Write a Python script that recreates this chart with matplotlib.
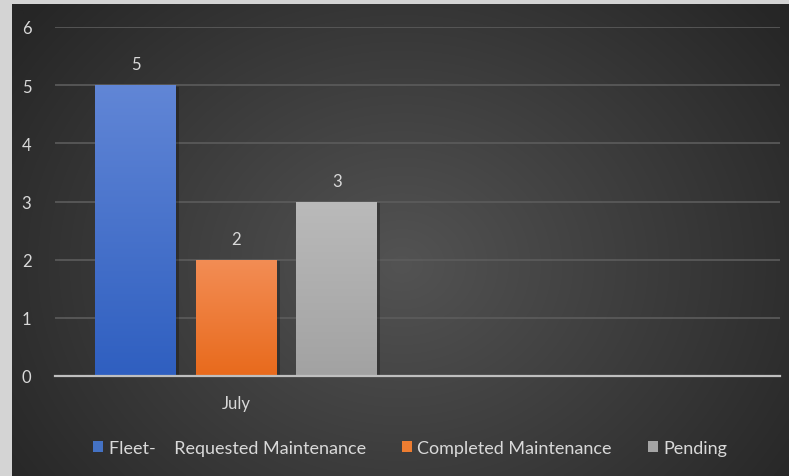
import numpy as np
import matplotlib
matplotlib.use("Agg")
import matplotlib.pyplot as plt
from matplotlib.patches import Rectangle
from matplotlib.colors import LinearSegmentedColormap

categories = ["July", ""]
series_names = ["Fleet-    Requested Maintenance", "Completed Maintenance", "Pending"]
series_values = [[5, None], [2, None], [3, None]]
yticks = [0, 1, 2, 3, 4, 5, 6]

top_colors = ["#6186d6", "#f38d55", "#bababa"]
bot_colors = ["#2f5fc0", "#e86a1c", "#a2a2a2"]
legend_colors = ["#4472c4", "#ed7d31", "#a5a5a5"]

plt.rcParams['font.family'] = ['Lato', 'DejaVu Sans']

W, H = 789, 477
fig = plt.figure(figsize=(W / 100, H / 100), dpi=100)
fig.patch.set_facecolor("#d4d4d4")

# panel background with radial gradient
px0, py0, px1, py1 = 12, 5, 789, 477
bg = fig.add_axes([px0 / W, 1 - py1 / H, (px1 - px0) / W, (py1 - py0) / H])
bg.set_axis_off()
ny, nx = 200, 300
yy, xx = np.mgrid[0:ny, 0:nx]
cx, cy = 0.50 * nx, 0.55 * ny
r = np.sqrt(((xx - cx) / (0.62 * nx)) ** 2 + ((yy - cy) / (0.85 * ny)) ** 2)
r = np.clip(r, 0, 1)
c0 = np.array([0x53, 0x53, 0x53]) / 255
c1 = np.array([0x26, 0x26, 0x26]) / 255
img = c0[None, None, :] * (1 - r[..., None]) + c1[None, None, :] * r[..., None]
bg.imshow(img, aspect="auto", extent=[0, 1, 0, 1], interpolation="bilinear")
bg.set_xlim(0, 1)
bg.set_ylim(0, 1)

ax_l, ax_r, ax_t, ax_b = 55, 780, 28, 377
ax = fig.add_axes([ax_l / W, 1 - ax_b / H, (ax_r - ax_l) / W, (ax_b - ax_t) / H])
ax.patch.set_alpha(0)
ax.set_xlim(-0.5, 1.5)
ax.set_ylim(0, 6)

bw = 0.223
step = 0.277
x = np.arange(len(categories))
for i, (name, vals) in enumerate(zip(series_names, series_values)):
    for j, v in enumerate(vals):
        if v is None:
            continue
        xc = x[j] + (i - 1) * step
        # shadow
        sh = Rectangle((xc - bw / 2 + 0.008, 0), bw, v - 0.03, facecolor="black",
                       alpha=0.25, edgecolor="none", zorder=2)
        ax.add_patch(sh)
        b = ax.bar(xc, v, bw, color=legend_colors[i], zorder=3)[0]
        cmap = LinearSegmentedColormap.from_list("g", [bot_colors[i], top_colors[i]])
        grad = np.linspace(0, 1, 256).reshape(-1, 1)
        im = ax.imshow(grad, cmap=cmap, origin="lower", aspect="auto",
                       extent=[xc - bw / 2, xc + bw / 2, 0, v], zorder=3.5)
        im.set_clip_path(b)
        ax.text(xc, v + 0.22, str(v), ha="center", va="bottom", color="#d9d9d9",
                fontsize=12, zorder=5)
    ax.bar([0], [0], color=legend_colors[i], label=name)

ax.set_xlim(-0.5, 1.5)
ax.set_ylim(0, 6)
ax.set_yticks(yticks)
ax.set_xticks(x)
ax.set_xticklabels(categories)
ax.yaxis.grid(True, color="#5c5c5c", linewidth=1.2)
ax.set_axisbelow(True)
for s in ["top", "right", "left"]:
    ax.spines[s].set_visible(False)
ax.spines["bottom"].set_color("#bfbfbf")
ax.spines["bottom"].set_linewidth(1.6)
ax.spines["bottom"].set_zorder(6)
ax.tick_params(axis="both", length=0, colors="#d9d9d9", labelsize=12)
ax.tick_params(axis="y", pad=17)
ax.tick_params(axis="x", pad=14)

leg = ax.legend(loc="upper center", bbox_to_anchor=(0.49, -0.137), ncol=3, frameon=False,
                fontsize=13, handlelength=0.55, handleheight=0.55, handletextpad=0.3,
                columnspacing=2.0)
for t in leg.get_texts():
    t.set_color("#d9d9d9")

fig.savefig("out.png", dpi=100, facecolor=fig.get_facecolor())
